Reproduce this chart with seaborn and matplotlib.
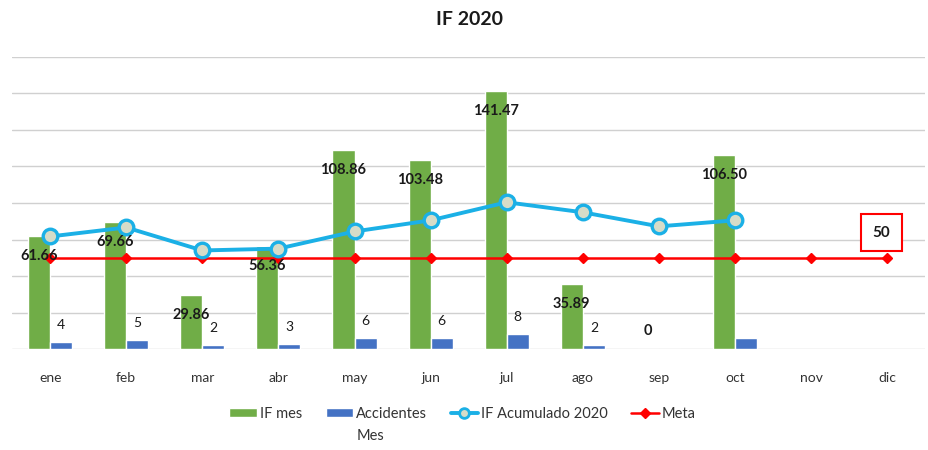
import numpy as np
import pandas as pd
import matplotlib
matplotlib.use("Agg")
import matplotlib.pyplot as plt
from matplotlib.patches import Patch
from matplotlib.lines import Line2D
import seaborn as sns

months = ["ene", "feb", "mar", "abr", "may", "jun", "jul", "ago", "sep", "oct", "nov", "dic"]
if_mes = [61.66, 69.66, 29.86, 56.36, 108.86, 103.48, 141.47, 35.89, 0, 106.50, np.nan, np.nan]
accidentes = [4, 5, 2, 3, 6, 6, 8, 2, 0, 6, np.nan, np.nan]
accidentes_labels = ["4", "5", "2", "3", "6", "6", "8", "2", "", "", "", ""]
if_acumulado = [61.66, 66.6, 54.0, 55.0, 64.4, 70.5, 80.4, 74.9, 67.2, 70.5, np.nan, np.nan]
meta = [50] * 12

GREEN = "#70AD47"
BLUE = "#4472C4"
CYAN = "#1BB0E6"
RED = "#FF0000"

sns.set_style("white")
plt.rcParams["font.family"] = ["Lato", "DejaVu Sans"]

df = pd.DataFrame({
    "mes": months * 2,
    "valor": if_mes + accidentes,
    "serie": ["IF mes"] * 12 + ["Accidentes Mes"] * 12,
})

fig = plt.figure(figsize=(9.29, 4.5), dpi=100)
ax = fig.add_axes([0.013, 0.2244, 0.983, 0.649])

sns.barplot(data=df, x="mes", y="valor", hue="serie", order=months,
            hue_order=["IF mes", "Accidentes Mes"], palette=[GREEN, BLUE],
            width=0.58, saturation=1, errorbar=None, ax=ax, zorder=2)
if ax.get_legend() is not None:
    ax.get_legend().remove()

x = np.arange(len(months))
ax.plot(x, meta, color=RED, lw=1.8, marker="D", markersize=5, zorder=4)
ax.plot(x, if_acumulado, color=CYAN, lw=2.8, marker="o", markersize=10.5,
        markerfacecolor="#D6DCC8", markeredgecolor=CYAN, markeredgewidth=2.4, zorder=5)

# etiquetas IF mes
for i, v in enumerate(if_mes):
    if np.isnan(v):
        continue
    off = -20 if v > 0 else 18
    ax.annotate(f"{v:.2f}" if v > 0 else "0", (i - 0.145, v), xytext=(0, off),
                textcoords="offset pixels", ha="center", va="center",
                fontsize=10.5, fontweight="bold", color="#1A1A1A", zorder=6)

# etiquetas accidentes
for i, (v, lab) in enumerate(zip(accidentes, accidentes_labels)):
    if lab:
        ax.annotate(lab, (i + 0.145, v), xytext=(0, 17), textcoords="offset pixels",
                    ha="center", va="center", fontsize=10, color="#1A1A1A", zorder=6)

# etiqueta meta
ax.annotate(str(meta[-1]), (11, meta[-1]), xytext=(-6, 25), textcoords="offset pixels",
            ha="center", va="center", fontsize=11, fontweight="bold", color="#1A1A1A",
            bbox=dict(boxstyle="square,pad=0.75", fc="white", ec=RED, lw=1.5), zorder=7)

ax.set_ylim(0, 160)
ax.set_xlim(-0.5, 11.5)
ax.set_yticks(np.arange(0, 161, 20))
ax.yaxis.grid(True, color="#D0D0D0", lw=1)
ax.set_axisbelow(True)
ax.set_yticklabels([])
ax.tick_params(axis="y", length=0)
ax.tick_params(axis="x", length=0, labelsize=10, pad=16.5, colors="#333333")
ax.set_xlabel("")
ax.set_ylabel("")
for s in ax.spines.values():
    s.set_visible(False)

fig.suptitle("IF 2020", x=0.505, y=0.956, va="center", fontsize=14, fontweight="bold",
             color="#1A1A1A")

handles = [
    Patch(facecolor=GREEN, label="IF mes"),
    Patch(facecolor=BLUE, label="Accidentes"),
    Line2D([], [], color=CYAN, lw=2.8, marker="o", markersize=7, markerfacecolor="#D6DCC8",
           markeredgecolor=CYAN, markeredgewidth=2, label="IF Acumulado 2020"),
    Line2D([], [], color=RED, lw=1.8, marker="D", markersize=5, label="Meta"),
]
leg = fig.legend(handles=handles, loc="center", bbox_to_anchor=(0.498, 0.08), ncol=4,
                 frameon=False, fontsize=10.5, handlelength=1.9, handleheight=0.6,
                 handletextpad=0.2, columnspacing=1.6, labelcolor="#333333")

# segunda linea de la etiqueta "Accidentes Mes"
fig.canvas.draw()
bb = leg.get_texts()[1].get_window_extent()
fig.text(bb.x0 / fig.bbox.width, (bb.y0 - 8) / fig.bbox.height, "Mes", ha="left",
         va="top", fontsize=10.5, color="#333333")

fig.savefig("out.png", dpi=100)
